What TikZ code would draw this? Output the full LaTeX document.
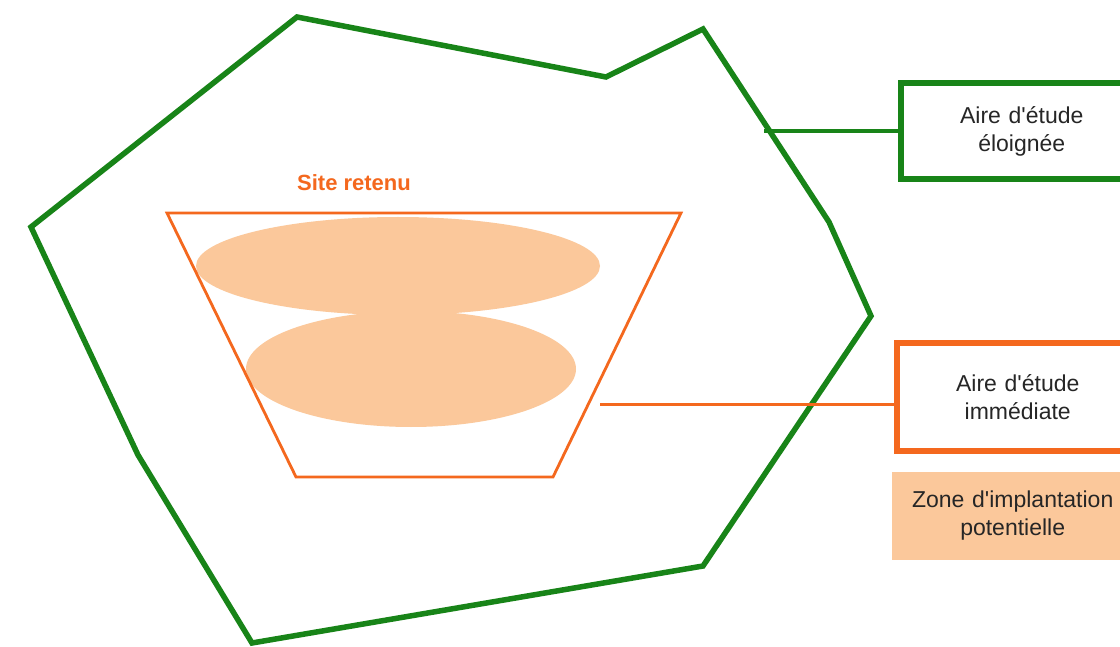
\documentclass[tikz,border=0pt]{standalone}
\usepackage{fontspec}
\setmainfont{Liberation Sans}
\usetikzlibrary{positioning}
\definecolor{zonegreen}{RGB}{24,132,24}
\definecolor{siteorange}{RGB}{244,104,30}
\definecolor{peach}{RGB}{251,200,155}
\newcommand{\apos}{\textquotesingle}
\tikzset{
legendbox/.style={
	rectangle,
	minimum width=242pt,
	text width=240pt,
	align=center,
	font=\fontsize{23}{28}\selectfont,
	text=black!85,
	inner sep=0pt
},
link/.style={
	line width=3.5pt,
	line cap=butt
}
}

\begin{document}
\begin{tikzpicture}[x=1pt, y=-1pt, line join=miter]
\clip (0,0) rectangle (1120,647);
\fill[white] (0,0) rectangle (1120,647);

% Aire d'etude eloignee
\draw[zonegreen, line width=5.5pt]
  (297,17) -- (606,77) -- (703,29) -- (829,222) -- (871,316)
  -- (703,566) -- (252,643) -- (138,455) -- (31,227) -- cycle;

% zone d'implantation potentielle
\fill[peach] (398,266) ellipse [x radius=202, y radius=49];
\fill[peach] (411,369) ellipse [x radius=165, y radius=58];

% site retenu
\draw[siteorange, line width=2.8pt] (167,213) -- (681,213) -- (553,477) -- (296,477) -- cycle;
\node (Site) [text=siteorange, font=\fontsize{22}{26}\selectfont\bfseries] at (354,183) {Site retenu};

% legend
\node (Eloignee) [legendbox, draw=zonegreen, line width=5.5pt, minimum height=96pt, anchor=west]
  at (898,131) {Aire d\apos étude\\ éloignée};
\node (Immediate) [legendbox, draw=siteorange, line width=5.5pt, minimum height=108pt, anchor=west]
  at (894,397) {Aire d\apos étude\\ immédiate};
\node (Zone) [legendbox, fill=peach, minimum height=88pt, anchor=west, xshift=-2.5pt]
  at (894,516) {Zone d\apos implantation\\ potentielle};

\coordinate (EloStart) at (764,131);
\coordinate (ImmStart) at (600,404);
\draw[link, zonegreen] (EloStart) -- (EloStart -| Eloignee.west);
\draw[link, siteorange, line width=3pt] (ImmStart) -- (ImmStart -| Immediate.west);

\end{tikzpicture}
\end{document}
